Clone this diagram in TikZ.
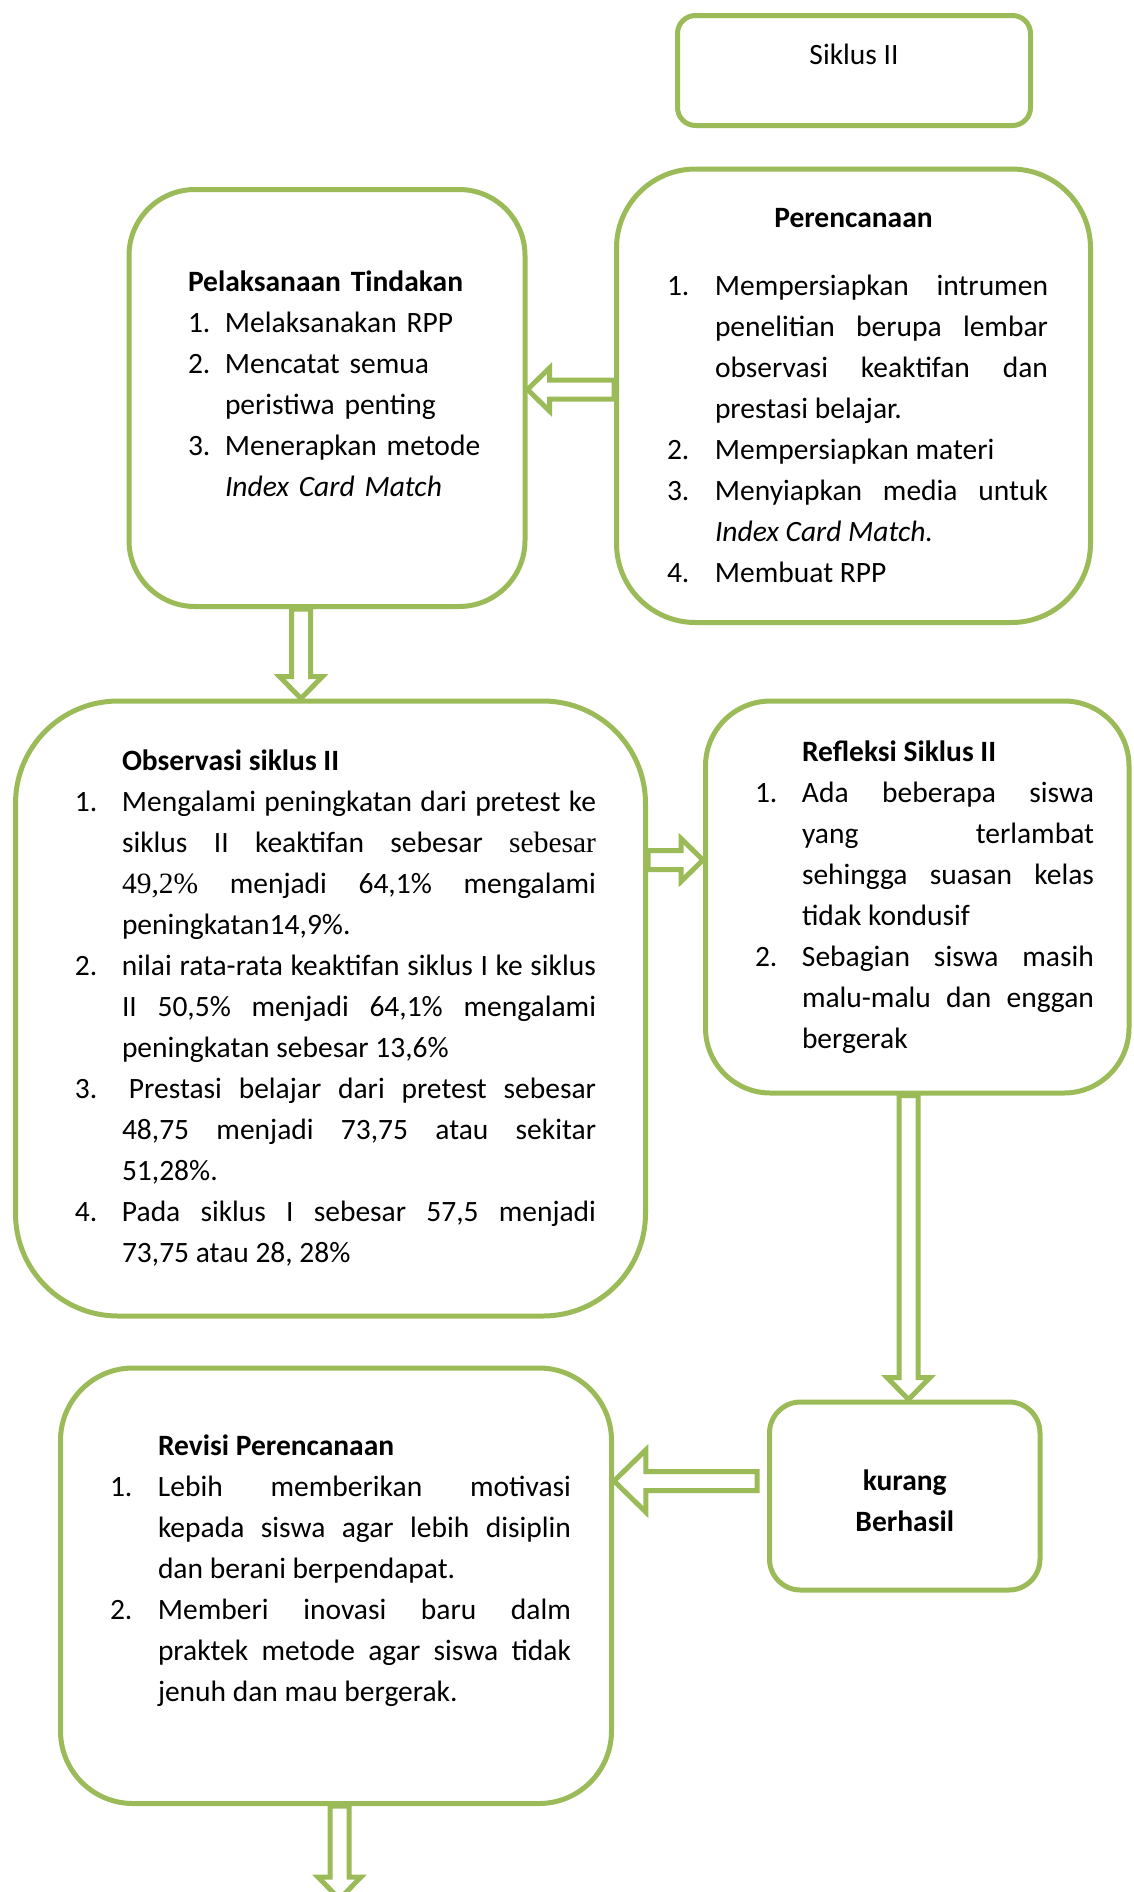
\documentclass[tikz,border=0pt]{standalone}
\usepackage{fontspec}
\setmainfont{Carlito}
\newfontfamily\timesfont{Liberation Serif}
\usepackage{tikz}
\usetikzlibrary{calc}

\definecolor{boxgreen}{HTML}{9BBB59}
\tolerance=10000
\hyphenpenalty=10000
\exhyphenpenalty=10000

\newlength\numw
\newcommand{\itm}[2]{\par\hangindent=\numw\hangafter=1\noindent\makebox[\numw][l]{#1}#2\par}
\newcommand{\padbottom}[1]{\par\vspace{#1}\hrule height 0pt}
\newcommand{\hollowarrow}[3][1]{%
  \pgfmathsetlengthmacro{\arrlen}{11pt*#1}%
  \pgfmathsetlengthmacro{\arrwid}{10.75pt*#1}%
  \coordinate (ha-s) at #2;
  \coordinate (ha-t) at #3;
  \coordinate (ha-b) at ($(ha-t)!\arrlen!(ha-s)$);
  \draw[arrowline] ($(ha-s)!4.75pt!90:(ha-t)$) -- ($(ha-b)!4.75pt!90:(ha-t)$)
    -- ($(ha-b)!\arrwid!90:(ha-t)$) -- (ha-t) -- ($(ha-b)!\arrwid!-90:(ha-t)$)
    -- ($(ha-b)!4.75pt!-90:(ha-t)$) -- ($(ha-s)!4.75pt!-90:(ha-t)$) -- cycle;
}

\begin{document}
\begin{tikzpicture}[x=0.5pt,y=-0.5pt,
  box/.style={draw=boxgreen, line width=2.5pt, inner sep=0pt,
    font=\fontsize{14.75}{20.5}\selectfont},
  arrowline/.style={draw=boxgreen, line width=2.5pt, line join=miter}]
\useasboundingbox (0,0) rectangle (1134,1892);

% boxes
\node[box, rounded corners=9pt, minimum width=176.5pt, minimum height=55pt,
  text height=10pt, text depth=16pt] (siklus) at (854,70.5) {Siklus II};

\node[box, rounded corners=39.5pt, minimum width=237pt, minimum height=226.75pt,
  text width=194.5pt, align=justify] (perenc) at (853.5,395.75) {%
  {\centering\bfseries Perencanaan\par}\vspace{13.5pt}
  \setlength\numw{24pt}\leftskip=4pt
  \itm{1.}{Mempersiapkan intrumen\linebreak penelitian berupa lembar\linebreak observasi keaktifan dan\linebreak prestasi belajar.}
  \itm{2.}{Mempersiapkan materi}
  \itm{3.}{Menyiapkan media untuk\linebreak \textit{Index Card Match.}}
  \itm{4.}{Membuat RPP}};

\node[box, rounded corners=33pt, minimum width=198pt, minimum height=208.5pt,
  text width=160pt, align=left] (pelak) at (327,398) {%
  \setlength\numw{18.5pt}\leftskip=10.5pt\rightskip=0pt plus 1fil\relax
  \noindent\textbf{Pelaksanaan Tindakan}\par
  \itm{1.}{Melaksanakan RPP}
  \itm{2.}{Mencatat semua\linebreak peristiwa penting}
  \itm{3.}{Menerapkan metode\linebreak \textit{Index Card Match}}
  \padbottom{14pt}};

\node[box, rounded corners=51.25pt, minimum width=315pt, minimum height=307.5pt,
  text width=265.5pt, align=justify] (obs) at (330.5,1008.5) {%
  \setlength\numw{23.5pt}\leftskip=5pt
  \noindent\hspace*{\numw}\textbf{Observasi siklus II}\par
  \itm{1.}{Mengalami peningkatan dari pretest ke\linebreak siklus II keaktifan sebesar {\timesfont sebesar}\linebreak {\timesfont 49,2\%} menjadi 64,1\% mengalami\linebreak peningkatan14,9\%.}
  \itm{2.}{nilai rata-rata keaktifan siklus I ke siklus\linebreak II 50,5\% menjadi 64,1\% mengalami\linebreak peningkatan sebesar 13,6\%}
  \itm{3.}{\hspace*{3.5pt}Prestasi belajar dari pretest sebesar\linebreak 48,75 menjadi 73,75 atau sekitar\linebreak 51,28\%.}
  \itm{4.}{Pada siklus I sebesar 57,5 menjadi\linebreak 73,75 atau 28, 28\%}};

\node[box, rounded corners=32.5pt, minimum width=211.75pt, minimum height=196pt,
  text width=176.75pt, align=justify] (refl) at (917.25,897) {%
  \setlength\numw{23.5pt}\leftskip=7.25pt
  \noindent\hspace*{\numw}\textbf{Refleksi Siklus II}\par
  \itm{1.}{Ada beberapa siswa\linebreak yang terlambat\linebreak sehingga suasan kelas\linebreak tidak kondusif}
  \itm{2.}{Sebagian siswa masih\linebreak malu-malu dan enggan\linebreak bergerak}};

\node[box, rounded corners=15.5pt, minimum width=135.25pt, minimum height=94pt,
  align=center, text height=35.6pt, font=\fontsize{14.75}{20.5}\selectfont\bfseries]
  (kurang) at (904.75,1496) {kurang\\Berhasil};

\node[box, rounded corners=36.25pt, minimum width=275.5pt, minimum height=217.75pt,
  text width=235pt, align=justify] (revisi) at (336,1585.75) {%
  \setlength\numw{24pt}\leftskip=4.5pt
  \noindent\hspace*{\numw}\textbf{Revisi Perencanaan}\par
  \itm{1.}{Lebih memberikan motivasi\linebreak kepada siswa agar lebih disiplin\linebreak dan berani berpendapat.}
  \itm{2.}{Memberi inovasi baru dalm\linebreak praktek metode agar siswa tidak\linebreak jenuh dan mau bergerak.}
  \padbottom{15pt}};

\coordinate (nextstep) at (339.5,1899);

% block arrows
\hollowarrow{(perenc.west |- 0,389.5)}{(pelak.east |- 0,389.5)}
\hollowarrow{(pelak.south -| 301,0)}{(obs.north -| 301,0)}
\hollowarrow{(obs.east |- 0,860)}{(refl.west |- 0,860)}
\hollowarrow{(refl.south -| 908.5,0)}{(kurang.north -| 908.5,0)}
\hollowarrow[1.45]{($(kurang.west |- 0,1481)+(-10,0)$)}{(revisi.east |- 0,1481)}
\hollowarrow{(revisi.south -| 339.5,0)}{(nextstep)}
\end{tikzpicture}
\end{document}
